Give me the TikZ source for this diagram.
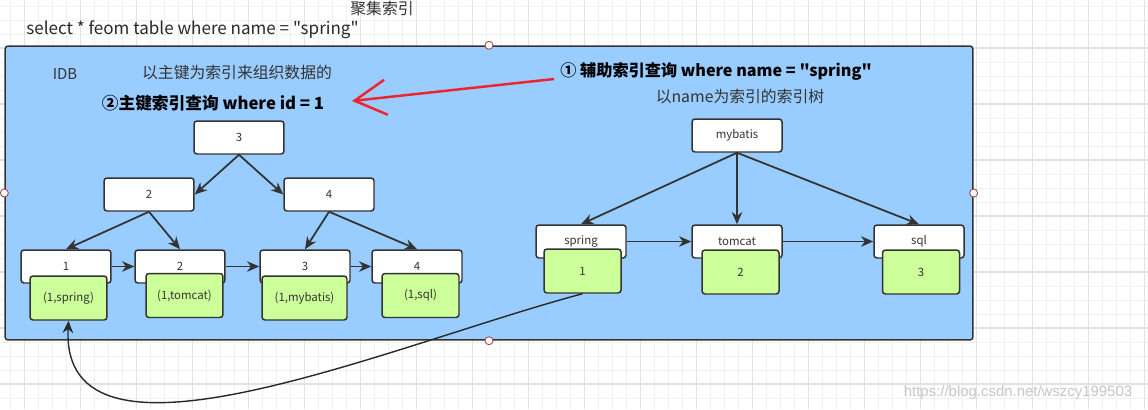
\documentclass[tikz,border=0pt]{standalone}
\usepackage{fontspec}
\setmainfont{Noto Sans CJK SC}[Ligatures=TeXOff]
\newfontfamily\wmfont{Liberation Sans}
\usetikzlibrary{calc, arrows.meta}
\definecolor{paneblue}{HTML}{99CCFF}
\definecolor{recgreen}{HTML}{CCFF99}
\definecolor{ink}{HTML}{333333}
\definecolor{arrowred}{HTML}{F0232D}
\definecolor{gridminor}{HTML}{F0F0F0}
\definecolor{gridmajor}{HTML}{E2E2E2}
\definecolor{handlered}{HTML}{A04848}

\begin{document}
\begin{tikzpicture}[x=0.02cm, y=-0.02cm,
 key/.style={draw=ink, fill=white, line width=0.85pt, rounded corners=1.7pt, minimum width=1.8cm, minimum height=0.66cm, inner sep=0pt, text=ink, font=\fontsize{6.5}{7}\selectfont},
 rec/.style={draw=ink, fill=recgreen, line width=0.85pt, rounded corners=1.7pt, minimum width=1.54cm, minimum height=0.88cm, inner sep=0pt, text=ink, font=\fontsize{6.5}{7}\selectfont},
 link/.style={draw=ink, line width=1pt, -{Stealth[length=7pt, width=6pt]}},
 handle/.style={circle, draw=handlered, fill=white, line width=0.5pt, inner sep=0pt, minimum size=0.16cm}]
 \useasboundingbox (0,0) rectangle (1148,409);
%背景のグリッド
 \foreach \gx in {10.7,24.7,...,1148} \draw[gridminor, line width=0.5pt] (\gx,0) -- (\gx,409);
 \foreach \gy in {6,20,...,409} \draw[gridminor, line width=0.5pt] (0,\gy) -- (1148,\gy);
 \foreach \gx in {24.3,80.3,...,1148} \draw[gridmajor, line width=0.6pt] (\gx,0) -- (\gx,409);
 \foreach \gy in {48,104,...,409} \draw[gridmajor, line width=0.6pt] (0,\gy) -- (1148,\gy);

 \node[text=ink, font=\fontsize{9}{10}\selectfont] (title) at (382,9) {聚集索引};
 \node[text=ink!80!black, font=\fontsize{9.7}{10}\selectfont] (query) at (192.5,30) {select * feom table where name = "spring"};

 \node[draw=ink, fill=paneblue, line width=0.85pt, rounded corners=1.7pt, minimum width=19.36cm, minimum height=5.88cm] (pane) at (489,193) {};

 \node[text=ink, font=\fontsize{8.5}{9}\selectfont] (idb) at (65,74) {IDB};
 \node[text=ink, font=\fontsize{9}{10}\selectfont] (pkdesc) at (237,73) {以主键为索引来组织数据的};
 \node[font=\fontsize{9.5}{10}\selectfont\bfseries] (pk) at (213,103) {②主键索引查询 where id = 1};
 \node[font=\fontsize{9.2}{10}\selectfont\bfseries] (aux) at (716,71) {① 辅助索引查询 where name = "spring"};
 \node[text=ink, font=\fontsize{9}{10}\selectfont] (namedesc) at (740,97) {以name为索引的索引树};

%主キーの索引木
 \node[key] (n3) at (239,137.5) {3};
 \node[key] (n2) at (149,194.5) {2};
 \node[key] (n4) at (329,194.5) {4};
 \node[key] (l1) at (66,266.5) {1};
 \node[key] (l2) at (180,266.5) {2};
 \node[key] (l3) at (305,266.5) {3};
 \node[key] (l4) at (417,266.5) {4};
 \node[rec] (g1) at (68.5,298) {(1,spring)};
 \node[rec] (g2) at (184.5,295.5) {(1,tomcat)};
 \node[rec, minimum width=1.7cm] (g3) at (304.5,298) {(1,mybatis)};
 \node[rec] (g4) at (420.5,295.5) {(1,sql)};
 \draw[link] (n3.south) -- (n2.east);
 \draw[link] (n3.south) -- (n4.west);
 \draw[link] (n2.south) -- (l1.north);
 \draw[link] (n2.south) -- (l2.north);
 \draw[link] (n4.south) -- (l3.north);
 \draw[link] (n4.south) -- (l4.north);
 \draw[link] (l1.east) -- (l2.west);
 \draw[link] (l2.east) -- (l3.west);
 \draw[link] (l3.east) -- (l4.west);

%name の索引木
 \node[key] (m) at (737,135.5) {mybatis};
 \node[key] (sp) at (581,241.5) {spring};
 \node[key] (tc) at (737,241.5) {tomcat};
 \node[key] (sq) at (919,241.5) {sql};
 \node[rec] (gs) at (582.5,271) {1};
 \node[rec] (gt) at (740.5,272) {2};
 \node[rec] (gq) at (921,272) {3};
 \draw[link] (m.south) -- (sp.north);
 \draw[link] (m.south) -- (tc.north);
 \draw[link] (m.south) -- (sq.north);
 \draw[link] (sp.east) -- (tc.west);
 \draw[link] (tc.east) -- (sq.west);

 \coordinate (redtip) at (352,101);
 \draw[arrowred, line width=1.4pt, -{Straight Barb[length=18pt, width=20pt]}] ($(aux.west)+(0,8)$) -- (redtip);
 \draw[ink!80!black, line width=0.8pt, -{Stealth[length=7pt, width=6pt]}] (gs.south) .. controls (390,345) and (60,490) .. (g1.south);

 \node[handle] (hn) at (pane.north) {};
 \node[handle] (hs) at (pane.south) {};
 \node[handle] (hw) at (pane.west) {};
 \node[handle] (he) at (pane.east) {};

 \node[text=gray!45, font=\wmfont\fontsize{8.5}{9}\selectfont] (wm) at (1018,393) {https://blog.csdn.net/wszcy199503};
\end{tikzpicture}
\end{document}
